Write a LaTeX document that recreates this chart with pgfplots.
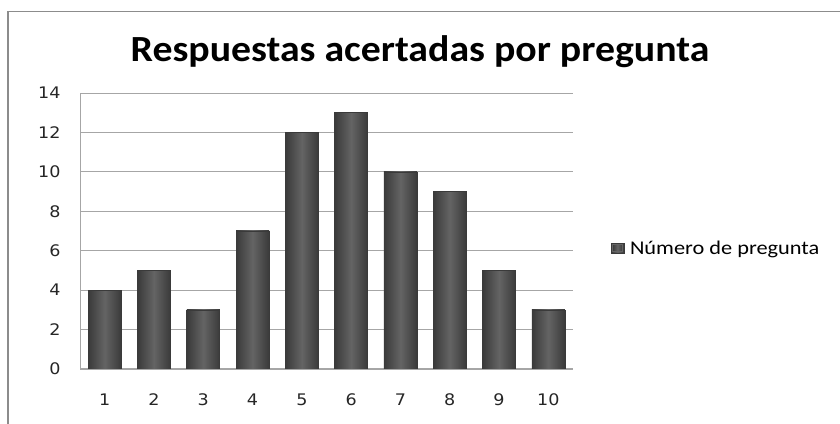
\documentclass[border=0pt]{standalone}
\usepackage{fontspec}
\setmainfont{Carlito}
\newfontfamily\titlefont[FakeStretch=1.08]{Carlito}
\newfontfamily\legfont[FakeStretch=1.15]{Carlito}
\newfontfamily\dejavu[FakeStretch=1.1]{DejaVu Sans}
\usepackage{pgfplots}
\pgfplotsset{compat=1.18}
\definecolor{framegray}{HTML}{8C8C8C}
\definecolor{gridgray}{HTML}{A6A6A6}
\definecolor{bardark}{HTML}{3A3A3A}
\definecolor{barmid}{HTML}{646464}
\pgfplotsset{mybar/.style={draw=bardark, line width=0.6bp, left color=bardark, right color=bardark, middle color=barmid, bar shift=0pt}}
\begin{document}
\begin{tikzpicture}
\useasboundingbox (0,0) rectangle (840bp,424bp);
\draw[framegray, line width=1.6bp] (8bp,-2bp) -- (8bp,412.5bp) -- (842bp,412.5bp);
\node[font=\titlefont\bfseries\fontsize{37}{40}\selectfont, anchor=base] at (420bp,362bp) {Respuestas acertadas por pregunta};
\begin{axis}[
  at={(80bp,55bp)}, anchor=south west,
  scale only axis, width=493bp, height=276bp,
  xmin=0.5, xmax=10.5, ymin=0, ymax=14,
  ytick={0,2,...,14}, xtick={1,...,10},
  ymajorgrids, grid style={gridgray, line width=0.8bp},
  axis x line*=bottom, axis y line*=left,
  axis line style={gridgray, line width=1bp, -},
  major tick length=0pt,
  /pgf/number format/assume math mode=true,
  ticklabel style={font=\dejavu\fontsize{16}{18}\selectfont, text=black!85},
  xticklabel style={yshift=-21bp},
  yticklabel style={xshift=-16bp},
  ybar, bar width=33bp,
  legend style={draw=none, fill=none, at={(1.07,0.438)}, anchor=west, font=\legfont\fontsize{19.5}{22}\selectfont},
  legend image code/.code={\fill[bardark] (0bp,-5bp) rectangle (13bp,5bp); \fill[barmid] (1.5bp,-3.5bp) rectangle (11.5bp,3.5bp); \path[draw=none, fill=none, shade=false] (0bp,0bp) -- (17bp,0bp);},
]
\addplot[mybar] coordinates {(1,4)};
\addlegendentry{Número de pregunta}
\addplot[mybar, forget plot] coordinates {(2,5)};
\addplot[mybar, forget plot] coordinates {(3,3)};
\addplot[mybar, forget plot] coordinates {(4,7)};
\addplot[mybar, forget plot] coordinates {(5,12)};
\addplot[mybar, forget plot] coordinates {(6,13)};
\addplot[mybar, forget plot] coordinates {(7,10)};
\addplot[mybar, forget plot] coordinates {(8,9)};
\addplot[mybar, forget plot] coordinates {(9,5)};
\addplot[mybar, forget plot] coordinates {(10,3)};
\end{axis}
\end{tikzpicture}
\end{document}
